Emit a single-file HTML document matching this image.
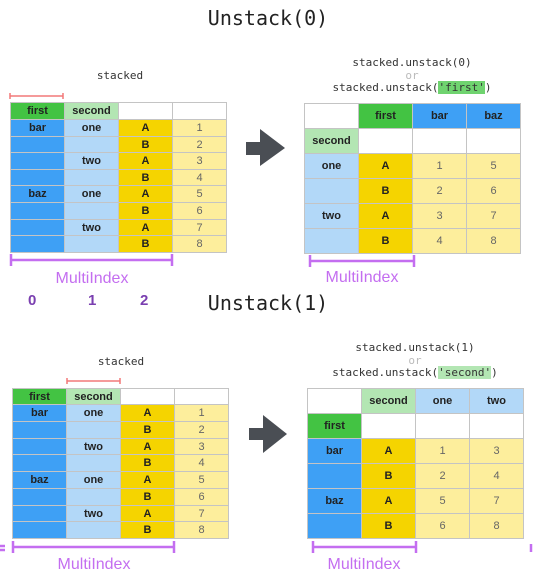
<!DOCTYPE html>
<html><head><meta charset="utf-8"><style>
body{margin:0;width:533px;height:577px;background:#fff;position:relative;overflow:hidden;font-family:"Liberation Sans",sans-serif}
.a{position:absolute}
.mono{font-family:"DejaVu Sans Mono","Liberation Mono",monospace}
.c{position:absolute;box-sizing:border-box;border:1px solid #c4c4c4;display:flex;align-items:center;justify-content:center;font-size:11px;font-weight:bold;color:#222}
.n{font-weight:normal;color:#666}
.g{background:#43c343}.lg{background:#b3e6b3}.b{background:#3ea0f5}.lb{background:#b2d8f8}.y{background:#f5d400}.ly{background:#fdee9c}.w{background:#fff}
.mi{position:absolute;color:#c46ef0;font-size:16px}
</style></head><body>
<div class="a mono" style="left:0;width:536px;top:6px;text-align:center;font-size:20px;color:#222">Unstack(0)</div>
<div class="a mono" style="left:0;width:536px;top:291px;text-align:center;font-size:20px;color:#222">Unstack(1)</div>

<div class="a mono" style="left:70px;width:100px;top:69px;text-align:center;font-size:11px;color:#333">stacked</div>
<div class="a mono" style="left:71px;width:100px;top:355px;text-align:center;font-size:11px;color:#333">stacked</div>

<div class="a mono" style="left:312px;width:200px;top:57px;text-align:center;font-size:11px;color:#333;line-height:12.5px">stacked.unstack(0)<br><span style="color:#bbb">or</span><br>stacked.unstack(<span style="background:#6fd36f">'first'</span>)</div>
<div class="a mono" style="left:315px;width:200px;top:342px;text-align:center;font-size:11px;color:#333;line-height:12.5px">stacked.unstack(1)<br><span style="color:#bbb">or</span><br>stacked.unstack(<span style="background:#b3e6b3">'second'</span>)</div>

<svg class="a" style="left:0;top:0" width="533" height="577">
<g stroke="#f27878" stroke-width="1.5"><line x1="10" y1="96" x2="63" y2="96"/><line x1="10" y1="93" x2="10" y2="99"/><line x1="63" y1="93" x2="63" y2="99"/>
<line x1="67" y1="381" x2="120" y2="381"/><line x1="67" y1="378" x2="67" y2="384"/><line x1="120" y1="378" x2="120" y2="384"/></g>
<g stroke="#c46ef0" stroke-width="2.5"><line x1="11" y1="260" x2="172" y2="260"/><line x1="11" y1="254" x2="11" y2="266"/><line x1="172" y1="254" x2="172" y2="266"/>
<line x1="310" y1="261" x2="414" y2="261"/><line x1="310" y1="255" x2="310" y2="267"/><line x1="414" y1="255" x2="414" y2="267"/>
<line x1="13" y1="547" x2="174" y2="547"/><line x1="13" y1="541" x2="13" y2="553"/><line x1="174" y1="541" x2="174" y2="553"/>
<line x1="313" y1="547" x2="416" y2="547"/><line x1="313" y1="541" x2="313" y2="553"/><line x1="416" y1="541" x2="416" y2="553"/>
<line x1="0" y1="546" x2="5" y2="546"/><line x1="0" y1="550" x2="5" y2="550"/><line x1="531" y1="544" x2="531" y2="552"/></g>
<polygon fill="#4a4e54" points="246,142 260,142 260,129 285,148 260,166 260,155 246,155"/>
<polygon fill="#4a4e54" points="249,428 263,428 263,415 287,434 263,453 263,440 249,440"/>
</svg>
<div class="mi" style="left:42px;top:270px;width:100px;text-align:center">MultiIndex</div>
<div class="mi" style="left:312px;top:269px;width:100px;text-align:center">MultiIndex</div>
<div class="mi" style="left:44px;top:556px;width:100px;text-align:center">MultiIndex</div>
<div class="mi" style="left:314px;top:556px;width:100px;text-align:center">MultiIndex</div>
<div class="a" style="left:28px;top:292px;color:#7a3fb0;font-weight:bold;font-size:15px">0</div>
<div class="a" style="left:88px;top:292px;color:#7a3fb0;font-weight:bold;font-size:15px">1</div>
<div class="a" style="left:140px;top:292px;color:#7a3fb0;font-weight:bold;font-size:15px">2</div>

<div class="c g" style="left:10px;top:102px;width:55px;height:18px">first</div>
<div class="c lg" style="left:64px;top:102px;width:55px;height:18px">second</div>
<div class="c w" style="left:118px;top:102px;width:55px;height:18px"></div>
<div class="c w" style="left:172px;top:102px;width:55px;height:18px"></div>
<div class="c g" style="left:12px;top:388px;width:55px;height:17px">first</div>
<div class="c lg" style="left:66px;top:388px;width:55px;height:17px">second</div>
<div class="c w" style="left:120px;top:388px;width:55px;height:17px"></div>
<div class="c w" style="left:174px;top:388px;width:55px;height:17px"></div>

<script>
function L(x0,y0,h){var a=["bar","","","","baz","","",""],b=["one","","two","","one","","two",""];var s="";
for(var i=0;i<8;i++){var y=Math.round(y0+i*h),y2=Math.round(y0+(i+1)*h),hh=y2-y+1;
s+='<div class="c b" style="left:'+x0+'px;top:'+y+'px;width:55px;height:'+hh+'px">'+a[i]+'</div>';
s+='<div class="c lb" style="left:'+(x0+54)+'px;top:'+y+'px;width:55px;height:'+hh+'px">'+b[i]+'</div>';
s+='<div class="c y" style="left:'+(x0+108)+'px;top:'+y+'px;width:55px;height:'+hh+'px">'+(i%2?'B':'A')+'</div>';
s+='<div class="c ly n" style="left:'+(x0+162)+'px;top:'+y+'px;width:55px;height:'+hh+'px">'+(i+1)+'</div>';}
document.body.insertAdjacentHTML('beforeend',s);}
L(10,119,16.6);L(12,404,16.75);
function R(x0,y0,h1,c1,c2,rows,vals){var s="";
var r=[[["w",""],[c1[0],c1[1]],[c2[0],c2[1]],[c2[0],c2[2]]],[[h1[0],h1[1]],["w",""],["w",""],["w",""]]];
for(var i=0;i<4;i++)r.push([[rows[0],rows[1][i]],["y",i%2?"B":"A"],["ly n",vals[i][0]],["ly n",vals[i][1]]]);
for(var i=0;i<6;i++)for(var j=0;j<4;j++)s+='<div class="c '+r[i][j][0]+'" style="left:'+(x0+j*54)+'px;top:'+(y0+i*25)+'px;width:55px;height:26px">'+r[i][j][1]+'</div>';
document.body.insertAdjacentHTML('beforeend',s);}
R(304,103,["lg","second"],["g","first"],["b","bar","baz"],["lb",["one","","two",""]],[[1,5],[2,6],[3,7],[4,8]]);
R(307,388,["g","first"],["lg","second"],["lb","one","two"],["b",["bar","","baz",""]],[[1,3],[2,4],[5,7],[6,8]]);
</script>
</body></html>
